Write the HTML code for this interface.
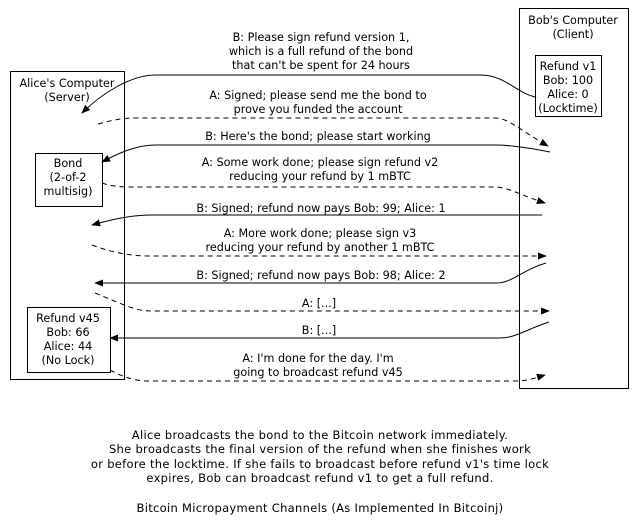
<!DOCTYPE html>
<html><head><style>
html,body{margin:0;padding:0;background:#fff;}
svg{display:block;}
text{font-family:"DejaVu Sans","Liberation Sans",sans-serif;font-size:11.2px;fill:#000;text-anchor:middle;}
.b{font-size:11.5px;letter-spacing:0.3px;}
</style></head><body>
<svg width="640" height="525" viewBox="0 0 640 525" xmlns="http://www.w3.org/2000/svg">
<defs>
<marker id="a" viewBox="0 0 10 10" refX="9" refY="5" markerWidth="9" markerHeight="9" orient="auto" markerUnits="userSpaceOnUse"><path d="M0,1 L10,5 L0,9 z" fill="#000"/></marker>
</defs>
<g fill="#fff" stroke="#000" stroke-width="1">
<rect x="10.5" y="71.5" width="114" height="308"/>
<rect x="519.5" y="8.5" width="109" height="380"/>
<rect x="535.5" y="55.5" width="66" height="61"/>
<rect x="35.5" y="153.5" width="67" height="53"/>
<rect x="27.5" y="307.5" width="83" height="65"/>
</g>
<text x="67" y="87">Alice's Computer</text>
<text x="67" y="101">(Server)</text>
<text x="573" y="24">Bob's Computer</text>
<text x="573" y="38">(Client)</text>
<text x="568" y="70">Refund v1</text>
<text x="568" y="84">Bob: 100</text>
<text x="568" y="98">Alice: 0</text>
<text x="568" y="112">(Locktime)</text>
<text x="68" y="167">Bond</text>
<text x="68" y="181">(2-of-2</text>
<text x="68" y="195">multisig)</text>
<text x="68" y="322">Refund v45</text>
<text x="68" y="336">Bob: 66</text>
<text x="68" y="350">Alice: 44</text>
<text x="68" y="364">(No Lock)</text>
<g fill="none" stroke="#000" stroke-width="1">
<path d="M535,97 C515,92 505,75 480,75 L155,75 C130,75 100,95 82,113" marker-end="url(#a)"/>
<path d="M98,124 C110,121 120,118 135,118 L495,118 C508,118 520,130 548,146" stroke-dasharray="5,4" marker-end="url(#a)"/>
<path d="M550,152 C530,148 510,145 495,145 L155,145 C135,145 115,155 102,162" marker-end="url(#a)"/>
<path d="M102,183 C110,186 120,187 130,187 L495,187 C508,187 520,195 545,203" stroke-dasharray="5,4" marker-end="url(#a)"/>
<path d="M542,215 L152,215 C130,215 110,220 92,225" marker-end="url(#a)"/>
<path d="M92,245 C110,252 130,256 150,256 L546,256" stroke-dasharray="5,4" marker-end="url(#a)"/>
<path d="M546,263 C522,270 512,283 497,283 L95,283" marker-end="url(#a)"/>
<path d="M95,293 C120,303 135,311 150,311 L549,311" stroke-dasharray="5,4" marker-end="url(#a)"/>
<path d="M549,322 C525,330 515,338 500,338 L110,338" marker-end="url(#a)"/>
<path d="M110,370 C125,378 135,381 150,381 L520,381 C530,380 535,378 545,375" stroke-dasharray="5,4" marker-end="url(#a)"/>
</g>
<text x="321" y="41">B: Please sign refund version 1,</text>
<text x="321" y="55">which is a full refund of the bond</text>
<text x="321" y="69">that can't be spent for 24 hours</text>
<text x="318" y="99">A: Signed; please send me the bond to</text>
<text x="318" y="113">prove you funded the account</text>
<text x="318" y="140">B: Here's the bond; please start working</text>
<text x="320" y="166">A: Some work done; please sign refund v2</text>
<text x="320" y="180">reducing your refund by 1 mBTC</text>
<text x="321" y="212">B: Signed; refund now pays Bob: 99; Alice: 1</text>
<text x="320" y="237">A: More work done; please sign v3</text>
<text x="320" y="251">reducing your refund by another 1 mBTC</text>
<text x="321" y="279">B: Signed; refund now pays Bob: 98; Alice: 2</text>
<text x="319" y="307">A: [...]</text>
<text x="319" y="334">B: [...]</text>
<text x="318" y="362">A: I'm done for the day.  I'm</text>
<text x="318" y="376">going to broadcast refund v45</text>
<text class="b" x="320" y="439">Alice broadcasts the bond to the Bitcoin network immediately.</text>
<text class="b" x="320" y="453">She broadcasts the final version of the refund when she finishes work</text>
<text class="b" x="320" y="468">or before the locktime.  If she fails to broadcast before refund v1's time lock</text>
<text class="b" x="320" y="482">expires, Bob can broadcast refund v1 to get a full refund.</text>
<text class="b" x="320" y="512">Bitcoin Micropayment Channels (As Implemented In Bitcoinj)</text>
</svg>
</body></html>
